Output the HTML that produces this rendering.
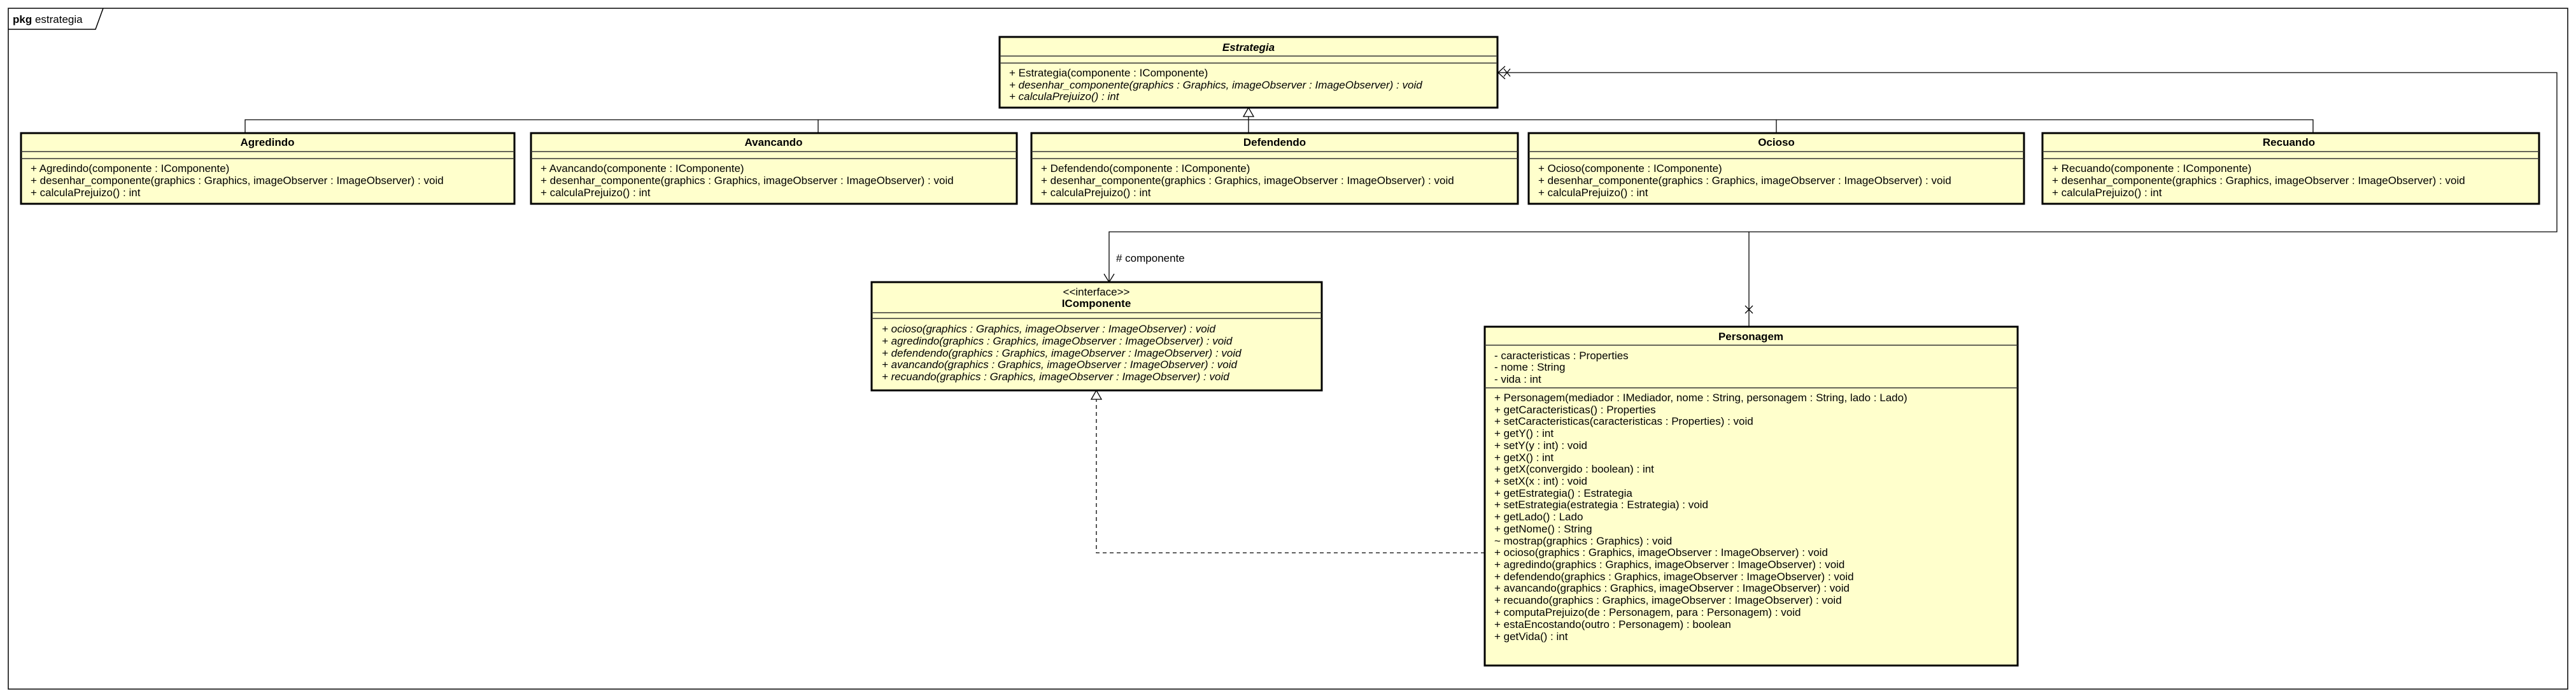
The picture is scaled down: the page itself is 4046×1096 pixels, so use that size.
<!DOCTYPE html>
<html><head><meta charset="utf-8"><style>
html,body{margin:0;padding:0;background:#fff}
svg{display:block}
text{font-family:"Liberation Sans",sans-serif;font-size:17px;fill:#000}
.b{font-weight:bold}
.i{font-style:italic}
.box{fill:#ffffcc;stroke:#000;stroke-width:3}
.sep{stroke:#333;stroke-width:1.5}
.ln{stroke:#000;stroke-width:1.3;fill:none}
</style></head><body>
<svg width="4046" height="1096" viewBox="0 0 4046 1096" xmlns="http://www.w3.org/2000/svg">
<rect x="13" y="13" width="4020" height="1069" fill="none" stroke="#000" stroke-width="1.5"/>
<path d="M13 46 H150 L162 13" fill="none" stroke="#000" stroke-width="1.5"/>
<text x="20" y="36"><tspan class="b">pkg</tspan> estrategia</text>

<polyline class="ln" points="385,209 385,188 3633,188 3633,209"/>
<line class="ln" x1="1285" y1="188" x2="1285" y2="209"/>
<line class="ln" x1="2790" y1="188" x2="2790" y2="209"/>
<line class="ln" x1="1961" y1="183" x2="1961" y2="209"/>
<polygon points="1961,169 1953,183 1969,183" fill="#fff" stroke="#000" stroke-width="1.3"/>

<polyline class="ln" points="2352,114 4016,114 4016,364 1742,364 1742,443"/>
<line class="ln" x1="2747" y1="364" x2="2747" y2="513"/>
<polyline class="ln" points="2364,104 2353,114 2364,124"/>
<path class="ln" d="M2362 108 L2372 120 M2372 108 L2362 120"/>
<text x="2000" y="141">- estrategia</text>
<polyline class="ln" points="1734,430 1742,443 1750,430"/>
<text x="1753" y="411"># componente</text>
<path class="ln" d="M2741 480 L2753 492 M2753 480 L2741 492"/>

<polyline points="2332,868 1722,868 1722,627" fill="none" stroke="#000" stroke-width="1.3" stroke-dasharray="6,5"/>
<polygon points="1722,613 1714,627 1730,627" fill="#fff" stroke="#000" stroke-width="1.3"/>

<rect class="box" x="1570" y="58" width="782" height="111"/>
<line class="sep" x1="1570" y1="88" x2="2352" y2="88"/>
<line class="sep" x1="1570" y1="99" x2="2352" y2="99"/>
<text class="b i" x="1961" y="80" text-anchor="middle">Estrategia</text>
<text x="1585" y="120">+ Estrategia(componente : IComponente)</text>
<text class="i" x="1585" y="139">+ desenhar_componente(graphics : Graphics, imageObserver : ImageObserver) : void</text>
<text class="i" x="1585" y="157">+ calculaPrejuizo() : int</text>

<g>
<rect class="box" x="33" y="209" width="775" height="111"/>
<line class="sep" x1="33" y1="238" x2="808" y2="238"/><line class="sep" x1="33" y1="249" x2="808" y2="249"/>
<text class="b" x="420" y="229" text-anchor="middle">Agredindo</text>
<text x="48" y="270">+ Agredindo(componente : IComponente)</text>
<text x="48" y="289">+ desenhar_componente(graphics : Graphics, imageObserver : ImageObserver) : void</text>
<text x="48" y="308">+ calculaPrejuizo() : int</text>
</g>
<g>
<rect class="box" x="834" y="209" width="763" height="111"/>
<line class="sep" x1="834" y1="238" x2="1597" y2="238"/><line class="sep" x1="834" y1="249" x2="1597" y2="249"/>
<text class="b" x="1215" y="229" text-anchor="middle">Avancando</text>
<text x="849" y="270">+ Avancando(componente : IComponente)</text>
<text x="849" y="289">+ desenhar_componente(graphics : Graphics, imageObserver : ImageObserver) : void</text>
<text x="849" y="308">+ calculaPrejuizo() : int</text>
</g>
<g>
<rect class="box" x="1620" y="209" width="764" height="111"/>
<line class="sep" x1="1620" y1="238" x2="2384" y2="238"/><line class="sep" x1="1620" y1="249" x2="2384" y2="249"/>
<text class="b" x="2002" y="229" text-anchor="middle">Defendendo</text>
<text x="1635" y="270">+ Defendendo(componente : IComponente)</text>
<text x="1635" y="289">+ desenhar_componente(graphics : Graphics, imageObserver : ImageObserver) : void</text>
<text x="1635" y="308">+ calculaPrejuizo() : int</text>
</g>
<g>
<rect class="box" x="2401" y="209" width="778" height="111"/>
<line class="sep" x1="2401" y1="238" x2="3179" y2="238"/><line class="sep" x1="2401" y1="249" x2="3179" y2="249"/>
<text class="b" x="2790" y="229" text-anchor="middle">Ocioso</text>
<text x="2416" y="270">+ Ocioso(componente : IComponente)</text>
<text x="2416" y="289">+ desenhar_componente(graphics : Graphics, imageObserver : ImageObserver) : void</text>
<text x="2416" y="308">+ calculaPrejuizo() : int</text>
</g>
<g>
<rect class="box" x="3208" y="209" width="780" height="111"/>
<line class="sep" x1="3208" y1="238" x2="3988" y2="238"/><line class="sep" x1="3208" y1="249" x2="3988" y2="249"/>
<text class="b" x="3595" y="229" text-anchor="middle">Recuando</text>
<text x="3223" y="270">+ Recuando(componente : IComponente)</text>
<text x="3223" y="289">+ desenhar_componente(graphics : Graphics, imageObserver : ImageObserver) : void</text>
<text x="3223" y="308">+ calculaPrejuizo() : int</text>
</g>

<rect class="box" x="1369" y="443" width="707" height="170"/>
<line class="sep" x1="1369" y1="491" x2="2076" y2="491"/>
<line class="sep" x1="1369" y1="500" x2="2076" y2="500"/>
<text x="1722" y="464" text-anchor="middle">&lt;&lt;interface&gt;&gt;</text>
<text class="b" x="1722" y="482" text-anchor="middle">IComponente</text>
<text class="i" x="1385" y="522">+ ocioso(graphics : Graphics, imageObserver : ImageObserver) : void</text>
<text class="i" x="1385" y="541">+ agredindo(graphics : Graphics, imageObserver : ImageObserver) : void</text>
<text class="i" x="1385" y="560">+ defendendo(graphics : Graphics, imageObserver : ImageObserver) : void</text>
<text class="i" x="1385" y="578">+ avancando(graphics : Graphics, imageObserver : ImageObserver) : void</text>
<text class="i" x="1385" y="597">+ recuando(graphics : Graphics, imageObserver : ImageObserver) : void</text>

<rect class="box" x="2332" y="513" width="837" height="532"/>
<line class="sep" x1="2332" y1="542" x2="3169" y2="542"/>
<line class="sep" x1="2332" y1="609" x2="3169" y2="609"/>
<text class="b" x="2750" y="534" text-anchor="middle">Personagem</text>
<text x="2347" y="564">- caracteristicas : Properties</text>
<text x="2347" y="582">- nome : String</text>
<text x="2347" y="601">- vida : int</text>
<text x="2347" y="630">+ Personagem(mediador : IMediador, nome : String, personagem : String, lado : Lado)</text>
<text x="2347" y="649">+ getCaracteristicas() : Properties</text>
<text x="2347" y="667">+ setCaracteristicas(caracteristicas : Properties) : void</text>
<text x="2347" y="686">+ getY() : int</text>
<text x="2347" y="705">+ setY(y : int) : void</text>
<text x="2347" y="724">+ getX() : int</text>
<text x="2347" y="742">+ getX(convergido : boolean) : int</text>
<text x="2347" y="761">+ setX(x : int) : void</text>
<text x="2347" y="780">+ getEstrategia() : Estrategia</text>
<text x="2347" y="798">+ setEstrategia(estrategia : Estrategia) : void</text>
<text x="2347" y="817">+ getLado() : Lado</text>
<text x="2347" y="836">+ getNome() : String</text>
<text x="2347" y="855">~ mostrap(graphics : Graphics) : void</text>
<text x="2347" y="873">+ ocioso(graphics : Graphics, imageObserver : ImageObserver) : void</text>
<text x="2347" y="892">+ agredindo(graphics : Graphics, imageObserver : ImageObserver) : void</text>
<text x="2347" y="911">+ defendendo(graphics : Graphics, imageObserver : ImageObserver) : void</text>
<text x="2347" y="929">+ avancando(graphics : Graphics, imageObserver : ImageObserver) : void</text>
<text x="2347" y="948">+ recuando(graphics : Graphics, imageObserver : ImageObserver) : void</text>
<text x="2347" y="967">+ computaPrejuizo(de : Personagem, para : Personagem) : void</text>
<text x="2347" y="986">+ estaEncostando(outro : Personagem) : boolean</text>
<text x="2347" y="1005">+ getVida() : int</text>
</svg>
</body></html>
